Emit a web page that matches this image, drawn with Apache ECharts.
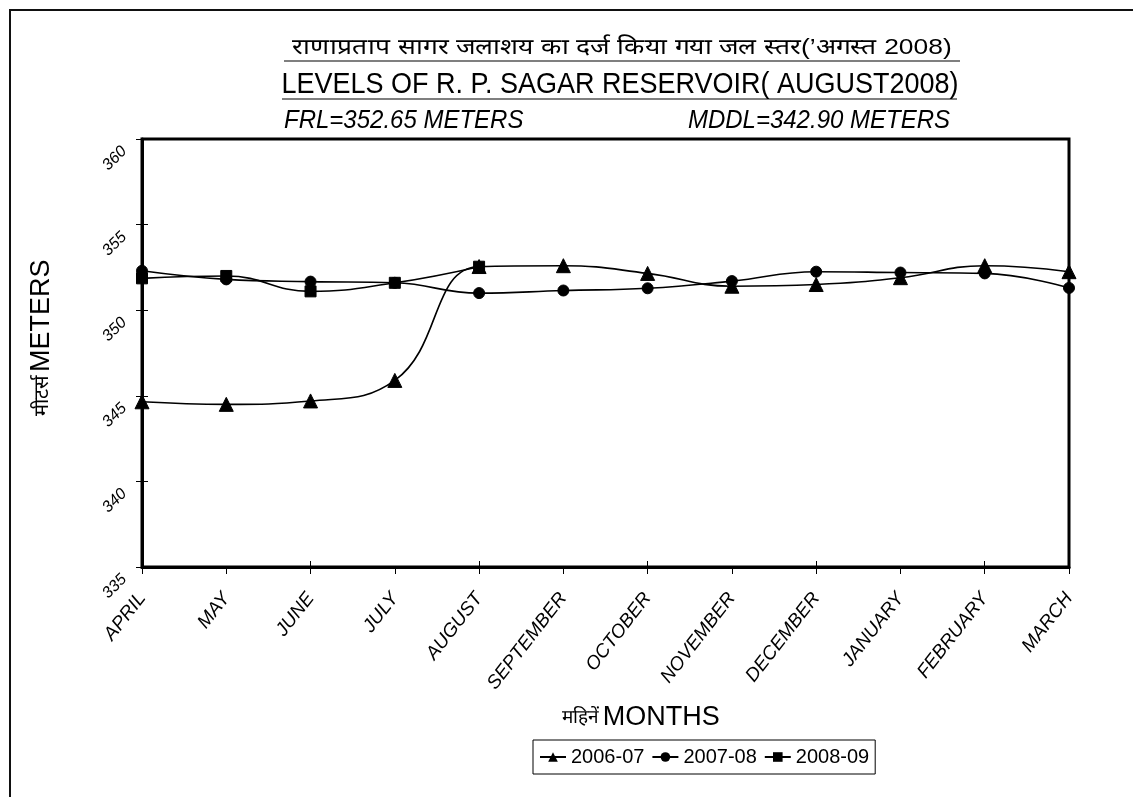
<!DOCTYPE html>
<html>
<head>
<meta charset="utf-8">
<script src="https://cdn.jsdelivr.net/npm/echarts@6/dist/echarts.min.js"></script>
<style>
html,body{margin:0;padding:0;background:#fff;}
#chart{width:1133px;height:797px;}
</style>
</head>
<body>
<div id="chart"></div>
<script>
var months = ['APRIL','MAY','JUNE','JULY','AUGUST','SEPTEMBER','OCTOBER','NOVEMBER','DECEMBER','JANUARY','FEBRUARY','MARCH'];
var s2006 = [344.65, 344.5, 344.7, 345.9, 352.55, 352.6, 352.15, 351.4, 351.5, 351.9, 352.6, 352.25];
var s2007 = [352.3, 351.8, 351.67, 351.6, 351.0, 351.15, 351.28, 351.7, 352.25, 352.2, 352.15, 351.3];
var s2008 = [351.86, 352.0, 351.1, 351.6, 352.54, null, null, null, null, null, null, null];
var seriesNames = ['2006-07', '2007-08', '2008-09'];
var yMin = 335, yMax = 360, yStep = 5;

var titleHi = 'राणाप्रताप सागर जलाशय का दर्ज किया गया जल स्तर(’अगस्त 2008)';
var titleEn = 'LEVELS OF R. P. SAGAR RESERVOIR( AUGUST2008)';
var frlText = 'FRL=352.65 METERS';
var mddlText = 'MDDL=342.90 METERS';

var sans = "'Liberation Sans',Arial,sans-serif";

var chart = echarts.init(document.getElementById('chart'));

function mk(name, data, symbol, size) {
  return {
    name: name, type: 'line', data: data, smooth: 0.45,
    symbol: symbol, symbolSize: size, showSymbol: true,
    connectNulls: false,
    lineStyle: {color: '#000', width: 1.6},
    itemStyle: {color: '#000', borderColor: '#000'},
    emphasis: {disabled: true},
    animation: false
  };
}

chart.setOption({
  backgroundColor: '#fff',
  animation: false,
  textStyle: {fontFamily: sans, color: '#000'},
  grid: {left: 142, right: 64, top: 139, bottom: 230, show: true, borderColor: '#000', borderWidth: 3, backgroundColor: 'transparent'},
  xAxis: [{
    type: 'category', data: months, boundaryGap: false,
    axisLine: {show: true, lineStyle: {color: '#000', width: 3}},
    axisTick: {show: true, length: 7, lineStyle: {color: '#000', width: 1}, alignWithLabel: true},
    axisLabel: {rotate: 52, fontSize: 19, fontStyle: 'italic', color: '#000', margin: 28, fontFamily: sans, interval: 0},
    splitLine: {show: false}
  }, {
    type: 'category', data: months, boundaryGap: false, position: 'bottom',
    axisLine: {show: false}, axisLabel: {show: false},
    axisTick: {show: true, inside: true, length: 6, lineStyle: {color: '#000', width: 1}},
    splitLine: {show: false}
  }],
  yAxis: [{
    type: 'value', min: yMin, max: yMax, interval: yStep,
    axisLine: {show: true, lineStyle: {color: '#000', width: 3}},
    axisTick: {show: true, length: 6, lineStyle: {color: '#000', width: 1}},
    axisLabel: {rotate: 45, fontSize: 16, fontStyle: 'italic', color: '#000', margin: 8, padding: [0, 14, 6, 0], fontFamily: sans},
    splitLine: {show: false}
  }, {
    type: 'value', min: yMin, max: yMax, interval: yStep, position: 'left',
    axisLine: {show: false}, axisLabel: {show: false},
    axisTick: {show: true, inside: true, length: 6, lineStyle: {color: '#000', width: 1}},
    splitLine: {show: false}
  }],
  legend: {
    data: seriesNames,
    left: 533, top: 740,
    orient: 'horizontal',
    itemWidth: 26, itemHeight: 12, itemGap: 7,
    padding: [7, 6, 7, 6],
    borderColor: '#000', borderWidth: 1,
    textStyle: {fontSize: 20, color: '#000', fontFamily: sans},
    selectedMode: false
  },
  series: [
    mk(seriesNames[0], s2006, 'triangle', 14),
    mk(seriesNames[1], s2007, 'circle', 11),
    mk(seriesNames[2], s2008, 'rect', 11)
  ],
  graphic: [
    {type: 'rect', silent: true, shape: {x: 10, y: 10, width: 1300, height: 1000}, style: {fill: 'none', stroke: '#111', lineWidth: 2}},
    {type: 'text', silent: true, x: 622, y: 48, scaleX: 1.2, scaleY: 1,
     style: {text: titleHi, x: 0, y: 0, align: 'center', verticalAlign: 'middle', font: "22px " + sans, fill: '#000'}},
    {type: 'line', silent: true, shape: {x1: 284, y1: 61, x2: 960, y2: 61}, style: {stroke: '#000', lineWidth: 1.2}},
    {type: 'text', silent: true, x: 620, y: 85, scaleX: 1, scaleY: 1.1,
     style: {text: titleEn, x: 0, y: 0, align: 'center', verticalAlign: 'middle', font: "27px " + sans, fill: '#000'}},
    {type: 'line', silent: true, shape: {x1: 282, y1: 99, x2: 957, y2: 99}, style: {stroke: '#000', lineWidth: 1.2}},
    {type: 'text', silent: true, x: 284, y: 121, scaleY: 1.1,
     style: {text: frlText, x: 0, y: 0, align: 'left', verticalAlign: 'middle', font: "italic 24px " + sans, fill: '#000'}},
    {type: 'text', silent: true, x: 950, y: 121, scaleY: 1.1,
     style: {text: mddlText, x: 0, y: 0, align: 'right', verticalAlign: 'middle', font: "italic 24px " + sans, fill: '#000'}},
    {type: 'text', silent: true, rotation: Math.PI / 2, x: 42, y: 338,
     style: {text: '{h|मीटर्स} {e|METERS}', x: 0, y: 0, align: 'center', verticalAlign: 'middle',
       rich: {h: {fontSize: 20, fontFamily: sans, fill: '#000'}, e: {fontSize: 27, fontFamily: sans, fill: '#000'}}}},
    {type: 'text', silent: true,
     style: {text: '{h|महिनें} {e|MONTHS}', x: 641, y: 718, align: 'center', verticalAlign: 'middle',
       rich: {h: {fontSize: 19, fontFamily: sans, fill: '#000'}, e: {fontSize: 27, fontFamily: sans, fill: '#000'}}}}
  ]
});
</script>
</body>
</html>
